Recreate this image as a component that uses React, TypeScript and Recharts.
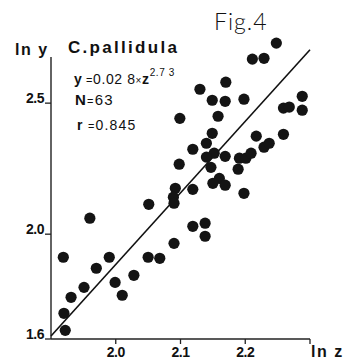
import { ScatterChart, Scatter, XAxis, YAxis, ReferenceLine } from "recharts";

// ln z / ln y of each specimen
const lnZ = [
    2.248, 2.211, 2.229, 2.170, 2.130, 2.149, 2.169, 2.198, 2.288, 2.259,
    2.268, 2.288, 2.099, 2.158, 2.149, 2.217, 2.259, 2.140, 2.119, 2.098,
    2.152, 2.140, 2.169, 2.147, 2.191, 2.201, 2.209, 2.229, 2.237, 2.189,
    2.160, 2.150, 2.169, 2.198, 2.119, 2.092, 2.089, 2.090, 2.051, 1.960,
    2.119, 2.138, 2.138, 1.919, 1.990, 1.970, 1.951, 1.931, 1.920, 1.922,
    1.999, 2.010, 2.028, 2.050, 2.068, 2.090,
];
const lnY = [
    2.729, 2.668, 2.671, 2.580, 2.553, 2.511, 2.507, 2.515, 2.526, 2.481,
    2.485, 2.473, 2.442, 2.450, 2.385, 2.374, 2.381, 2.347, 2.324, 2.267,
    2.309, 2.294, 2.297, 2.255, 2.290, 2.290, 2.309, 2.332, 2.347, 2.248,
    2.213, 2.194, 2.187, 2.156, 2.171, 2.175, 2.141, 2.118, 2.114, 2.061,
    2.030, 2.042, 1.992, 1.912, 1.912, 1.870, 1.797, 1.759, 1.698, 1.633,
    1.816, 1.767, 1.843, 1.912, 1.908, 1.965,
];

const xTicks = [2.0, 2.1, 2.2, 2.3];
const yTicks = [1.6, 2.0, 2.5];

// fitted allometry y = 0.028 * z^2.73
const coef = 0.028;
const power = 2.73;

const points = lnZ.map((x, i) => ({ x, y: lnY[i] }));
const fitAt = (lz: number) => Math.log(coef) + power * lz;

const tickFont = "'Liberation Sans', Arial, sans-serif";

function XTick({ x, y, payload }: any) {
    // the 2.3 tick is left unlabelled, "ln z" sits there instead
    if (payload.value > 2.25) return null;
    return (
        <text x={x} y={y + 13} textAnchor="middle" fontFamily={tickFont} fontSize={14} fontWeight={600} letterSpacing={-0.5} fill="#111">
            {payload.value.toFixed(1)}
        </text>
    );
}

function YTick({ x, y, payload }: any) {
    return (
        <text x={x - 1} y={y} textAnchor="end" fontFamily={tickFont} fontSize={14} fontWeight={600} letterSpacing={-0.5} fill="#111">
            {payload.value.toFixed(1)}
        </text>
    );
}

const Dot = (props: any) => <circle cx={props.cx} cy={props.cy} r={5.6} fill="#141414" />;

export default function App() {
    return (
        <div style={{ position: "absolute", left: 0, top: 0, width: 344, height: 359, background: "#fff" }}>
            <ScatterChart width={344} height={359} margin={{ top: 35, right: 34, left: 0, bottom: 0 }}>
                <XAxis
                    type="number"
                    dataKey="x"
                    domain={[1.9, 2.3]}
                    ticks={xTicks}
                    tick={<XTick />}
                    tickSize={5}
                    tickMargin={0}
                    tickLine={{ stroke: "#222", strokeWidth: 1.3 }}
                    axisLine={{ stroke: "#222", strokeWidth: 1.4 }}
                    height={20}
                />
                <YAxis
                    type="number"
                    dataKey="y"
                    domain={[1.6, 2.76]}
                    ticks={yTicks}
                    tick={<YTick />}
                    tickSize={6}
                    tickMargin={0}
                    tickLine={{ stroke: "#222", strokeWidth: 1.3 }}
                    width={51}
                    axisLine={false}
                />
                <ReferenceLine
                    segment={[{ x: 1.9, y: 1.6 }, { x: 1.9, y: 2.676 }]}
                    stroke="#222"
                    strokeWidth={1.4}
                />
                <ReferenceLine
                    segment={[{ x: 1.9, y: fitAt(1.9) }, { x: 2.3, y: fitAt(2.3) }]}
                    stroke="#111"
                    strokeWidth={1.6}
                    ifOverflow="visible"
                />
                <Scatter data={points} shape={Dot} isAnimationActive={false} />
            </ScatterChart>
            <svg width={344} height={359} style={{ position: "absolute", left: 0, top: 0, pointerEvents: "none" }}>
                <g fontFamily={tickFont} fill="#111">
                    <text x={214} y={30} fontFamily="Lato, 'Open Sans', sans-serif" fontWeight={300} fontSize={23} letterSpacing={1}>
                        Fig.4
                    </text>
                    <text x={15} y={55} fontSize={16} fontWeight={700} letterSpacing={1.5}>ln y</text>
                    <text x={311} y={357} fontSize={16} fontWeight={700} letterSpacing={1.5}>ln z</text>
                    <text x={68} y={53} fontSize={17} fontWeight={700} letterSpacing={2.3}>C.pallidula</text>
                    <text x={74} y={84} fontSize={14} letterSpacing={0.6}>
                        <tspan fontWeight={700}>y</tspan>
                        <tspan fontSize={11}> =</tspan>
                        <tspan>0.02 8</tspan>
                        <tspan fontSize={10}>×</tspan>
                        <tspan fontWeight={700}>z</tspan>
                        <tspan fontSize={10} dy={-8}>2.7 3</tspan>
                    </text>
                    <text x={75} y={105} fontSize={15} letterSpacing={1.2}>
                        <tspan fontWeight={700}>N</tspan>
                        <tspan fontSize={11}>=</tspan>
                        <tspan>63</tspan>
                    </text>
                    <text x={77} y={130} fontSize={14} letterSpacing={1.2}>
                        <tspan fontWeight={700}>r</tspan>
                        <tspan fontSize={11}> =</tspan>
                        <tspan>0.845</tspan>
                    </text>
                </g>
            </svg>
        </div>
    );
}
